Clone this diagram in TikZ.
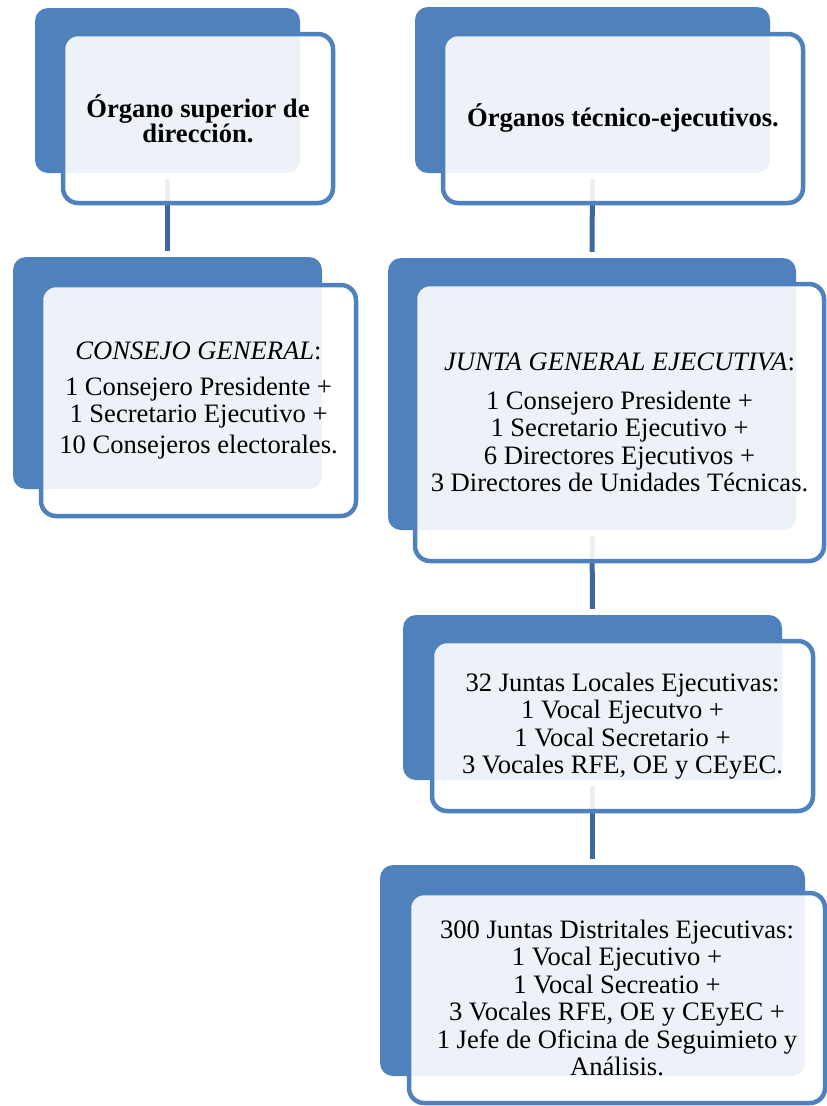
\documentclass[tikz,border=0pt]{standalone}
\usepackage{fontspec}
\setmainfont{Liberation Serif}
\usepackage{tikz}
\definecolor{boxblue}{HTML}{4F81BD}
\definecolor{linkblue}{HTML}{41689E}
\tikzset{
    backbox/.style={
           rectangle,
           rounded corners=13pt,
           fill=boxblue,
           inner sep=0pt,
           },
    frontbox/.style={
           rectangle,
           rounded corners=15pt,
           draw=boxblue, line width=4.5pt,
           fill=white, fill opacity=0.9, text opacity=1,
           inner sep=2pt,
           align=center,
           font=\fontsize{26.6pt}{27.5pt}\selectfont,
           },
    link/.style={
           draw=linkblue, line width=5pt,
           shorten <=6pt, shorten >=6pt,
           },
}

\begin{document}
\begin{tikzpicture}[x=1pt,y=-1pt]
 \useasboundingbox (0,0) rectangle (827,1106);

 % Back boxes: plain blue, drawn first
 \node[backbox, minimum width=265pt, minimum height=165pt] (organo-back)      at (167.5,90.5) {};
 \node[backbox, minimum width=355pt, minimum height=166pt] (tecnico-back)     at (592.5,90)   {};
 \node[backbox, minimum width=309pt, minimum height=232pt] (consejo-back)     at (167.5,373)  {};
 \node[backbox, minimum width=408pt, minimum height=272pt] (junta-back)       at (592,394)    {};
 \node[backbox, minimum width=379pt, minimum height=165pt] (locales-back)     at (592.5,697.5) {};
 \node[backbox, minimum width=425pt, minimum height=211pt] (distritales-back) at (592.5,970.5) {};

 % Links between the back boxes (under the front boxes)
 \draw[link] (organo-back.south)  -- (consejo-back.north);
 \draw[link] (tecnico-back.south) -- (junta-back.north);
 \draw[link] (junta-back.south)   -- (locales-back.north);
 \draw[link] (locales-back.south) -- (distritales-back.north);

 % Front boxes with the texts, shifted down right of their back box
 \node[frontbox, minimum width=270pt, minimum height=169pt,
       font=\fontsize{26.6pt}{25pt}\selectfont\bfseries]
   (organo) at ([shift={(30.5,28)}]organo-back.center)
   {Órgano superior de\\dirección.};

 \node[frontbox, minimum width=360pt, minimum height=169pt,
       font=\fontsize{26.6pt}{27.5pt}\selectfont\bfseries]
   (tecnico) at ([shift={(30.5,28.5)}]tecnico-back.center)
   {Órganos técnico-ejecutivos.};

 \node[frontbox, minimum width=315pt, minimum height=231pt]
   (consejo) at ([shift={(31,27.5)}]consejo-back.center)
   {\textit{CONSEJO GENERAL}:\\[8.5pt]
    1 Consejero Presidente +\\
    1 Secretario Ejecutivo +\\[3.5pt]
    10 Consejeros electorales.};

 \node[frontbox, minimum width=409pt, minimum height=277pt]
   (junta) at ([shift={(27.5,28.5)}]junta-back.center)
   {\textit{JUNTA GENERAL EJECUTIVA}:\\[11pt]
    1 Consejero Presidente +\\
    1 Secretario Ejecutivo +\\
    6 Directores Ejecutivos +\\
    3 Directores de Unidades Técnicas.};

 \node[frontbox, minimum width=381pt, minimum height=170pt]
   (locales) at ([shift={(30,28.5)}]locales-back.center)
   {32 Juntas Locales Ejecutivas:\\
    1 Vocal Ejecutvo +\\
    1 Vocal Secretario +\\
    3 Vocales RFE, OE y CEyEC.};

 \node[frontbox, minimum width=416pt, minimum height=210pt]
   (distritales) at ([shift={(24.5,27.5)}]distritales-back.center)
   {300 Juntas Distritales Ejecutivas:\\
    1 Vocal Ejecutivo +\\
    1 Vocal Secreatio +\\
    3 Vocales RFE, OE y CEyEC +\\
    1 Jefe de Oficina de Seguimieto y\\
    Análisis.};
\end{tikzpicture}
\end{document}
